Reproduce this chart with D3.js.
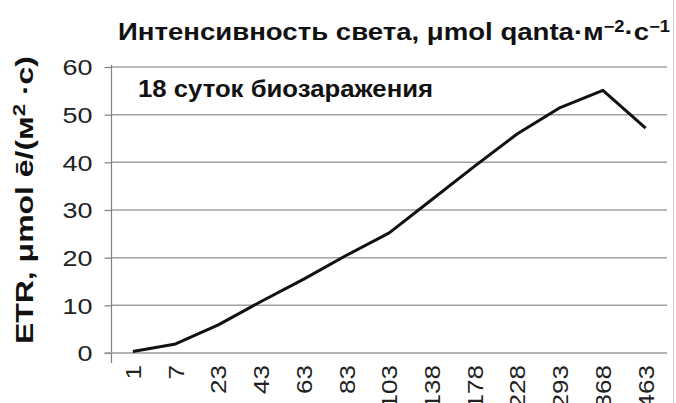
<!DOCTYPE html>
<html>
<head>
<meta charset="utf-8">
<script src="https://cdn.jsdelivr.net/npm/d3@7"></script>
<style>
  body { margin: 0; background: #fff; }
  svg { display: block; font-family: "Liberation Sans", Arial, sans-serif; }
</style>
</head>
<body>
<div id="main"></div>
<script>
const light = ['1', '7', '23', '43', '63', '83', '103', '138', '178', '228', '293', '368', '463'];
const etr = [0.3, 1.9, 5.9, 10.8, 15.5, 20.5, 25.2, 32.2, 39.2, 46, 51.5, 55.1, 47.2];
const yTicks = [0, 10, 20, 30, 40, 50, 60];

const width = 676, height = 403;
const margin = { top: 67, right: 9, bottom: 50, left: 111.5 };

const svg = d3.select('#main').append('svg')
  .attr('width', width).attr('height', height)
  .attr('viewBox', [0, 0, width, height]);

const sx = d3.scaleBand()
  .domain(light)
  .range([margin.left, width - margin.right]);
const sy = d3.scaleLinear()
  .domain([0, 60])
  .range([height - margin.bottom, margin.top]);

// gridlines
svg.append('g').selectAll('line').data(yTicks.slice(1)).join('line')
  .attr('x1', margin.left).attr('x2', width - margin.right)
  .attr('y1', d => sy(d)).attr('y2', d => sy(d))
  .attr('stroke', '#a0a0a0').attr('stroke-width', 1.5);

// frame edge on the right
svg.append('line')
  .attr('x1', 673.5).attr('x2', 673.5).attr('y1', 0).attr('y2', height)
  .attr('stroke', '#d0d0d0').attr('stroke-width', 1);

// y axis
const ay = svg.append('g')
  .attr('transform', `translate(${margin.left},0)`)
  .call(d3.axisLeft(sy).tickValues(yTicks).tickSize(7).tickPadding(12));
ay.select('.domain').remove();
ay.selectAll('.tick line').attr('stroke', '#808080').attr('stroke-width', 1.2);
ay.selectAll('.tick text')
  .attr('font-size', 22).attr('fill', '#222').attr('dy', '0.36em')
  .attr('font-family', '"Liberation Sans", Arial, sans-serif')
  .attr('textLength', d => String(d).length * 15)
  .attr('lengthAdjust', 'spacingAndGlyphs');
svg.append('line')
  .attr('x1', margin.left).attr('x2', margin.left)
  .attr('y1', sy(60) - 2).attr('y2', sy(0) + 10)
  .attr('stroke', '#808080').attr('stroke-width', 1.2);

// x axis line at 0
svg.append('line')
  .attr('x1', margin.left - 7).attr('x2', width - margin.right)
  .attr('y1', sy(0)).attr('y2', sy(0))
  .attr('stroke', '#9a9a9a').attr('stroke-width', 1.5);

// x labels (cut off by the bottom edge, as in the original)
svg.append('g').selectAll('text').data(light).join('text')
  .attr('transform', d => `translate(${sx(d) + sx.bandwidth() / 2 + 8},${sy(0) + 12}) rotate(-90)`)
  .attr('text-anchor', 'end')
  .attr('font-size', 22).attr('fill', '#222')
  .attr('textLength', d => d.length * 14.5)
  .attr('lengthAdjust', 'spacingAndGlyphs')
  .text(d => d);

// the curve
const line = d3.line()
  .x((d, i) => sx(light[i]) + sx.bandwidth() / 2)
  .y(d => sy(d));
svg.append('path')
  .datum(etr)
  .attr('d', line)
  .attr('fill', 'none').attr('stroke', '#111')
  .attr('stroke-width', 3).attr('stroke-linejoin', 'round');

// texts
svg.append('text')
  .attr('x', 118).attr('y', 40)
  .attr('font-size', 24).attr('font-weight', 'bold').attr('fill', '#111')
  .attr('textLength', 552).attr('lengthAdjust', 'spacingAndGlyphs')
  .html('Интенсивность света, μmol qanta·м<tspan dy="-8" font-size="16">−2</tspan><tspan dy="8">·с</tspan><tspan dy="-8" font-size="16">−1</tspan>');

svg.append('text')
  .attr('x', 138).attr('y', 97)
  .attr('font-size', 23).attr('font-weight', 'bold').attr('fill', '#111')
  .attr('textLength', 295).attr('lengthAdjust', 'spacingAndGlyphs')
  .text('18 суток биозаражения');

svg.append('text')
  .attr('transform', `translate(33,${(sy(0) + sy(60)) / 2 - 10}) rotate(-90)`)
  .attr('text-anchor', 'middle')
  .attr('font-size', 23).attr('font-weight', 'bold').attr('fill', '#111')
  .attr('textLength', 288).attr('lengthAdjust', 'spacingAndGlyphs')
  .html('ETR, μmol ē/(м<tspan dy="-8" font-size="16">2</tspan><tspan dy="8"> ·с)</tspan>');
</script>
</body>
</html>
